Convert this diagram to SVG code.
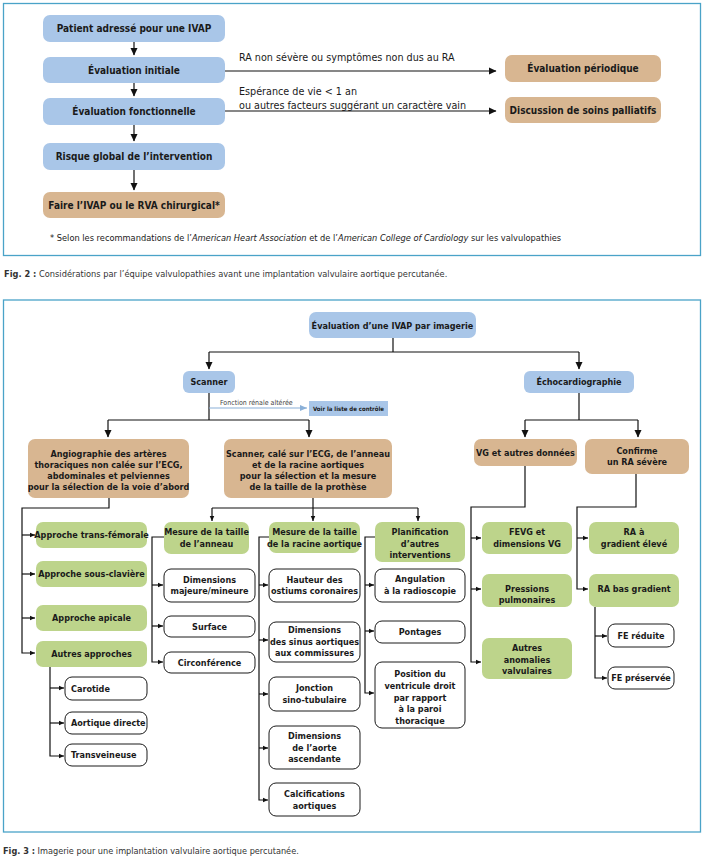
<svg xmlns="http://www.w3.org/2000/svg" width="706" height="858" viewBox="0 0 706 858">
<defs>
<style>
text{font-family:"Liberation Sans Narrow","DejaVu Sans Condensed","Liberation Sans",sans-serif;fill:#1a1a1a}
.b{font-weight:bold}
.t1{font-size:10px;font-weight:bold;text-anchor:middle}
.t2{font-size:9px;font-weight:bold;text-anchor:middle}
.t2l{font-size:9px;font-weight:bold}
.lab{font-size:10.7px}
.blue{fill:#a9c6e8}
.tan{fill:#d8b691}
.green{fill:#bdd48b}
.white{fill:#fff;stroke:#1a1a1a;stroke-width:1}
.frame{fill:none;stroke:#4aa3c8;stroke-width:1.3}
.c{fill:none;stroke:#111;stroke-width:1.2}
.cl{fill:none;stroke:#8ab0d8;stroke-width:1.2}
</style>
<marker id="ah" markerWidth="8" markerHeight="8" refX="7" refY="4" orient="auto" markerUnits="userSpaceOnUse"><path d="M0,0.5 L7.5,4 L0,7.5 z" fill="#111"/></marker>
<marker id="ahs" markerWidth="6" markerHeight="6" refX="5.5" refY="3" orient="auto" markerUnits="userSpaceOnUse"><path d="M0,0.5 L5.5,3 L0,5.5 z" fill="#111"/></marker>
<marker id="ahl" markerWidth="8" markerHeight="8" refX="7" refY="4" orient="auto" markerUnits="userSpaceOnUse"><path d="M0,1 L7,4 L0,7 z" fill="#8ab0d8"/></marker>
</defs>

<rect class="frame" x="3.5" y="3.5" width="697" height="252"/>
<rect class="frame" x="3.5" y="300" width="697" height="532"/>

<g id="connectors">
<!-- top figure -->
<path class="c" d="M134,42 V55" marker-end="url(#ah)"/>
<path class="c" d="M134,83 V96" marker-end="url(#ah)"/>
<path class="c" d="M134,125 V141" marker-end="url(#ah)"/>
<path class="c" d="M134,170 V190" marker-end="url(#ah)"/>
<path class="c" d="M225,71 H496" marker-end="url(#ah)"/>
<path class="c" d="M225,111 H496" marker-end="url(#ah)"/>
<!-- bottom figure -->
<path class="c" d="M393,338 V352"/>
<path class="c" d="M209,352 H579"/>
<path class="c" d="M209,352 V369" marker-end="url(#ah)"/>
<path class="c" d="M579,352 V369" marker-end="url(#ah)"/>
<path class="c" d="M209,393 V420"/>
<path class="c" d="M108,420 H309"/>
<path class="c" d="M108,420 V437" marker-end="url(#ah)"/>
<path class="c" d="M309,420 V437" marker-end="url(#ah)"/>
<path class="cl" d="M209,408 H307" marker-end="url(#ahl)"/>
<path class="c" d="M579,393 V420"/>
<path class="c" d="M525,420 H638"/>
<path class="c" d="M525,420 V437" marker-end="url(#ah)"/>
<path class="c" d="M638,420 V437" marker-end="url(#ah)"/>
<!-- angiographie -->
<path class="c" d="M109,498 V508 H22 V653 H35" marker-end="url(#ahs)"/>
<path class="c" d="M22,535 H35" marker-end="url(#ahs)"/>
<path class="c" d="M22,574 H35" marker-end="url(#ahs)"/>
<path class="c" d="M22,618 H35" marker-end="url(#ahs)"/>
<path class="c" d="M50,667 V756 H64" marker-end="url(#ahs)"/>
<path class="c" d="M50,688 H64" marker-end="url(#ahs)"/>
<path class="c" d="M50,723 H64" marker-end="url(#ahs)"/>
<!-- scanner ECG -->
<path class="c" d="M313,498 V508"/>
<path class="c" d="M212,508 H418"/>
<path class="c" d="M212,508 V521" marker-end="url(#ahs)"/>
<path class="c" d="M313,508 V521" marker-end="url(#ahs)"/>
<path class="c" d="M418,508 V521" marker-end="url(#ahs)"/>
<path class="c" d="M164,537 H152 V662 H163" marker-end="url(#ahs)"/>
<path class="c" d="M152,585 H163" marker-end="url(#ahs)"/>
<path class="c" d="M152,626 H163" marker-end="url(#ahs)"/>
<path class="c" d="M269,537 H259 V800 H268" marker-end="url(#ahs)"/>
<path class="c" d="M259,585 H268" marker-end="url(#ahs)"/>
<path class="c" d="M259,640 H268" marker-end="url(#ahs)"/>
<path class="c" d="M259,694 H268" marker-end="url(#ahs)"/>
<path class="c" d="M259,748 H268" marker-end="url(#ahs)"/>
<path class="c" d="M375,537 H365 V693 H374" marker-end="url(#ahs)"/>
<path class="c" d="M365,585 H374" marker-end="url(#ahs)"/>
<path class="c" d="M365,631 H374" marker-end="url(#ahs)"/>
<!-- echo -->
<path class="c" d="M525,466 V507 H471 V662 H481" marker-end="url(#ahs)"/>
<path class="c" d="M471,538 H481" marker-end="url(#ahs)"/>
<path class="c" d="M471,589 H481" marker-end="url(#ahs)"/>
<path class="c" d="M636,474 V507 H577 V589 H588" marker-end="url(#ahs)"/>
<path class="c" d="M577,538 H588" marker-end="url(#ahs)"/>
<path class="c" d="M595,607 V678 H607" marker-end="url(#ahs)"/>
<path class="c" d="M595,636 H607" marker-end="url(#ahs)"/>
</g>

<!-- top figure labels -->
<text class="lab" x="239" y="61">RA non sévère ou symptômes non dus au RA</text>
<text class="lab" x="239" y="95">Espérance de vie &lt; 1 an</text>
<text class="lab" x="239" y="109">ou autres facteurs suggérant un caractère vain</text>

<g id="n-patient"><rect class="blue" x="43" y="15" width="182" height="27" rx="7"/><text class="t1" x="134" y="32">Patient adressé pour une IVAP</text></g>
<g id="n-initiale"><rect class="blue" x="43" y="57" width="182" height="26" rx="7"/><text class="t1" x="134" y="73.5">Évaluation initiale</text></g>
<g id="n-fonctionnelle"><rect class="blue" x="43" y="98" width="182" height="27" rx="7"/><text class="t1" x="134" y="115">Évaluation fonctionnelle</text></g>
<g id="n-risque"><rect class="blue" x="43" y="143" width="182" height="27" rx="7"/><text class="t1" x="134" y="160">Risque global de l’intervention</text></g>
<g id="n-faire"><rect class="tan" x="43" y="192" width="182" height="26" rx="7"/><text class="t1" x="134" y="208.5">Faire l’IVAP ou le RVA chirurgical*</text></g>
<g id="n-periodique"><rect class="tan" x="505" y="55" width="156" height="27" rx="7"/><text class="t1" x="583" y="72">Évaluation périodique</text></g>
<g id="n-palliatifs"><rect class="tan" x="505" y="97" width="156" height="26" rx="7"/><text class="t1" x="583" y="113.5">Discussion de soins palliatifs</text></g>

<text x="50" y="241" style="font-size:9.2px">* Selon les recommandations de l’<tspan font-style="italic">American Heart Association</tspan> et de l’<tspan font-style="italic">American College of Cardiology</tspan> sur les valvulopathies</text>
<text x="4" y="277" style="font-size:9.2px;fill:#333"><tspan class="b">Fig. 2 :</tspan> Considérations par l’équipe valvulopathies avant une implantation valvulaire aortique percutanée.</text>

<!-- bottom figure -->
<g id="n-root"><rect class="blue" x="309" y="312" width="167" height="26" rx="7"/><text class="t2" x="392.5" y="328.5">Évaluation d’une IVAP par imagerie</text></g>
<g id="n-scanner"><rect class="blue" x="183" y="371" width="52" height="22" rx="6"/><text class="t2" x="209" y="385">Scanner</text></g>
<g id="n-echo"><rect class="blue" x="524" y="371" width="110" height="22" rx="6"/><text class="t2" x="579" y="385">Échocardiographie</text></g>
<text x="220" y="405" style="font-size:7px;fill:#444">Fonction rénale altérée</text>
<g id="n-liste"><rect class="blue" x="309" y="401" width="79" height="15"/><text x="348.5" y="411" style="font-size:6px;font-weight:bold;text-anchor:middle">Voir la liste de contrôle</text></g>

<g id="n-angio"><rect class="tan" x="28" y="439" width="161" height="59" rx="7"/><text class="t2" x="108.5"><tspan x="108.5" y="456.5">Angiographie des artères</tspan><tspan x="108.5" y="467.5">thoraciques non calée sur l’ECG,</tspan><tspan x="108.5" y="478.5">abdominales et pelviennes</tspan><tspan x="108.5" y="489.5">pour la sélection de la voie d’abord</tspan></text></g>
<g id="n-scanecg"><rect class="tan" x="224" y="439" width="168" height="59" rx="7"/><text class="t2" x="308"><tspan x="308" y="456.5">Scanner, calé sur l’ECG, de l’anneau</tspan><tspan x="308" y="467.5">et de la racine aortiques</tspan><tspan x="308" y="478.5">pour la sélection et la mesure</tspan><tspan x="308" y="489.5">de la taille de la prothèse</tspan></text></g>
<g id="n-vg"><rect class="tan" x="474" y="439" width="103" height="27" rx="7"/><text class="t2" x="525.5" y="455.5">VG et autres données</text></g>
<g id="n-confirme"><rect class="tan" x="585" y="439" width="104" height="35" rx="7"/><text class="t2" x="637"><tspan x="637" y="453.5">Confirme</tspan><tspan x="637" y="464.5">un RA sévère</tspan></text></g>

<g id="n-transfem"><rect class="green" x="36" y="522" width="111" height="26" rx="7"/><text class="t2" x="91.5" y="538">Approche trans-fémorale</text></g>
<g id="n-sousclav"><rect class="green" x="36" y="561" width="111" height="26" rx="7"/><text class="t2" x="91.5" y="577">Approche sous-clavière</text></g>
<g id="n-apicale"><rect class="green" x="36" y="605" width="111" height="26" rx="7"/><text class="t2" x="91.5" y="621">Approche apicale</text></g>
<g id="n-autres"><rect class="green" x="36" y="641" width="111" height="26" rx="7"/><text class="t2" x="91.5" y="657">Autres approches</text></g>
<g id="n-carotide"><rect class="white" x="65" y="677" width="82" height="23" rx="7"/><text class="t2l" x="71" y="691.5">Carotide</text></g>
<g id="n-aortdir"><rect class="white" x="65" y="712" width="82" height="22" rx="7"/><text class="t2l" x="71" y="726">Aortique directe</text></g>
<g id="n-transv"><rect class="white" x="65" y="744" width="82" height="22" rx="7"/><text class="t2l" x="71" y="758">Transveineuse</text></g>

<g id="n-anneau"><rect class="green" x="164" y="522" width="85" height="32" rx="7"/><text class="t2" x="206.5"><tspan x="206.5" y="535">Mesure de la taille</tspan><tspan x="206.5" y="546.5">de l’anneau</tspan></text></g>
<g id="n-dimmaj"><rect class="white" x="164" y="569" width="91" height="33" rx="7"/><text class="t2" x="209.5"><tspan x="209.5" y="582.5">Dimensions</tspan><tspan x="209.5" y="594">majeure/mineure</tspan></text></g>
<g id="n-surface"><rect class="white" x="164" y="616" width="91" height="21" rx="7"/><text class="t2" x="209.5" y="629.5">Surface</text></g>
<g id="n-circ"><rect class="white" x="164" y="652" width="91" height="21" rx="7"/><text class="t2" x="209.5" y="665.5">Circonférence</text></g>

<g id="n-racine"><rect class="green" x="269" y="522" width="91" height="31" rx="7"/><text class="t2" x="314.5"><tspan x="314.5" y="535">Mesure de la taille</tspan><tspan x="314.5" y="546.5">de la racine aortique</tspan></text></g>
<g id="n-hauteur"><rect class="white" x="269" y="569" width="91" height="33" rx="7"/><text class="t2" x="314.5"><tspan x="314.5" y="582.5">Hauteur des</tspan><tspan x="314.5" y="594">ostiums coronaires</tspan></text></g>
<g id="n-sinus"><rect class="white" x="269" y="622" width="91" height="40" rx="7"/><text class="t2" x="314.5"><tspan x="314.5" y="632.5">Dimensions</tspan><tspan x="314.5" y="644.5">des sinus aortiques</tspan><tspan x="314.5" y="656">aux commissures</tspan></text></g>
<g id="n-jonction"><rect class="white" x="269" y="677" width="91" height="34" rx="7"/><text class="t2" x="314.5"><tspan x="314.5" y="691">Jonction</tspan><tspan x="314.5" y="702.5">sino-tubulaire</tspan></text></g>
<g id="n-aorte"><rect class="white" x="269" y="726" width="91" height="43" rx="7"/><text class="t2" x="314.5"><tspan x="314.5" y="738.5">Dimensions</tspan><tspan x="314.5" y="750.5">de l’aorte</tspan><tspan x="314.5" y="761.5">ascendante</tspan></text></g>
<g id="n-calc"><rect class="white" x="269" y="783" width="91" height="33" rx="7"/><text class="t2" x="314.5"><tspan x="314.5" y="796.5">Calcifications</tspan><tspan x="314.5" y="808.5">aortiques</tspan></text></g>

<g id="n-planif"><rect class="green" x="375" y="522" width="90" height="40" rx="7"/><text class="t2" x="420"><tspan x="420" y="535">Planification</tspan><tspan x="420" y="546.5">d’autres</tspan><tspan x="420" y="558">interventions</tspan></text></g>
<g id="n-angul"><rect class="white" x="375" y="569" width="90" height="33" rx="7"/><text class="t2" x="420"><tspan x="420" y="582">Angulation</tspan><tspan x="420" y="593.5">à la radioscopie</tspan></text></g>
<g id="n-pontages"><rect class="white" x="375" y="621" width="90" height="22" rx="7"/><text class="t2" x="420" y="634.5">Pontages</text></g>
<g id="n-position"><rect class="white" x="375" y="662" width="90" height="66" rx="7"/><text class="t2" x="420"><tspan x="420" y="677">Position du</tspan><tspan x="420" y="688.5">ventricule droit</tspan><tspan x="420" y="700.5">par rapport</tspan><tspan x="420" y="712">à la paroi</tspan><tspan x="420" y="723.5">thoracique</tspan></text></g>

<g id="n-fevg"><rect class="green" x="482" y="522" width="90" height="32" rx="7"/><text class="t2" x="527"><tspan x="527" y="535">FEVG et</tspan><tspan x="527" y="546.5">dimensions VG</tspan></text></g>
<g id="n-pressions"><rect class="green" x="482" y="574" width="90" height="33" rx="7"/><text class="t2" x="527"><tspan x="527" y="591.5">Pressions</tspan><tspan x="527" y="603">pulmonaires</tspan></text></g>
<g id="n-anomalies"><rect class="green" x="482" y="638" width="90" height="41" rx="7"/><text class="t2" x="527"><tspan x="527" y="650.5">Autres</tspan><tspan x="527" y="662.5">anomalies</tspan><tspan x="527" y="674">valvulaires</tspan></text></g>

<g id="n-raeleve"><rect class="green" x="589" y="522" width="90" height="32" rx="7"/><text class="t2" x="634"><tspan x="634" y="535">RA à</tspan><tspan x="634" y="546.5">gradient élevé</tspan></text></g>
<g id="n-rabas"><rect class="green" x="589" y="574" width="90" height="33" rx="7"/><text class="t2" x="634" y="592">RA bas gradient</text></g>
<g id="n-fered"><rect class="white" x="608" y="624" width="66" height="23" rx="7"/><text class="t2" x="641" y="638.5">FE réduite</text></g>
<g id="n-fepres"><rect class="white" x="608" y="667" width="66" height="22" rx="7"/><text class="t2" x="641" y="681">FE préservée</text></g>

<text x="3" y="854" style="font-size:9.1px;fill:#333"><tspan class="b">Fig. 3 :</tspan> Imagerie pour une implantation valvulaire aortique percutanée.</text>
</svg>
